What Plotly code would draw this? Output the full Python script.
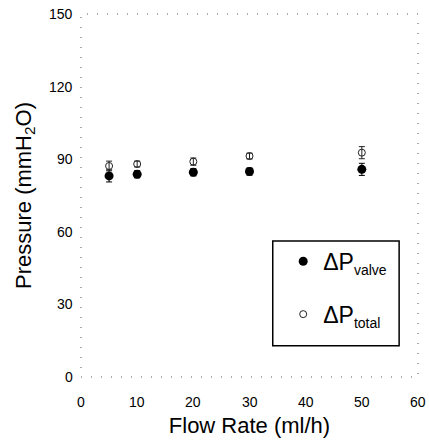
import plotly.graph_objects as go

flow_rate = [5, 10, 20, 30, 50]
dp_valve = [83.1, 83.8, 84.6, 84.9, 85.8]
dp_valve_err = [2.5, 1.5, 1.5, 1.5, 2.5]
dp_total = [87.2, 88.0, 89.0, 91.3, 92.7]
dp_total_err = [2.0, 1.2, 1.5, 1.2, 2.5]
x_ticks = [0, 10, 20, 30, 40, 50, 60]
y_ticks = [0, 30, 60, 90, 120, 150]

FONT = "Liberation Sans, Arial, sans-serif"

fig = go.Figure()
fig.add_trace(go.Scatter(
    x=flow_rate, y=dp_valve, mode="markers",
    name="ΔP<sub><span style='font-size:14px'>valve</span></sub>", legendgroup="a",
    marker=dict(symbol="circle", size=9, color="black"),
    error_y=dict(type="data", array=dp_valve_err, color="black", thickness=1, width=3),
))
fig.add_trace(go.Scatter(
    x=flow_rate, y=dp_total, mode="markers",
    name="ΔP<sub><span style='font-size:14px'>total</span></sub>", legendgroup="b",
    marker=dict(symbol="circle-open", size=7, color="#222", line=dict(width=1)),
    error_y=dict(type="data", array=dp_total_err, color="#222", thickness=1, width=3),
))

# tick labels drawn as annotations at the axis tick values
annotations = []
for v in y_ticks:
    annotations.append(dict(x=0, xref="paper", y=v, yref="y", text=str(v),
                            showarrow=False, xanchor="right", xshift=-6,
                            font=dict(size=14, family=FONT, color="black")))
for v in x_ticks:
    annotations.append(dict(x=v, xref="x", y=0, yref="paper", text=str(v),
                            showarrow=False, yanchor="top", yshift=-15,
                            font=dict(size=14, family=FONT, color="black")))

fig.update_layout(
    width=429, height=444,
    margin=dict(l=81, r=11, t=14, b=67),
    paper_bgcolor="white", plot_bgcolor="white",
    font=dict(family=FONT, color="black", size=14),
    showlegend=True,
    legend=dict(
        x=0.60, y=0.378, xanchor="left", yanchor="top",
        bgcolor="rgba(0,0,0,0)", borderwidth=0,
        font=dict(size=23, family=FONT),
        traceorder="grouped", tracegroupgap=20,
        itemwidth=30,
    ),
    xaxis=dict(
        range=[0, 60], tickvals=x_ticks, showticklabels=False,
        showgrid=False, zeroline=False, showline=False, ticks="",
        automargin=False,
        title=dict(text="Flow Rate (ml/h)", font=dict(size=22, family=FONT), standoff=40),
    ),
    yaxis=dict(
        range=[0, 150], tickvals=y_ticks, showticklabels=False,
        showgrid=False, zeroline=False, showline=False, ticks="",
        automargin=False,
        title=dict(text="Pressure (mmH<sub>2</sub>O)", font=dict(size=22, family=FONT), standoff=42),
    ),
    annotations=annotations,
    shapes=[
        dict(type="rect", xref="paper", yref="paper", x0=0, x1=1, y0=0, y1=1,
             line=dict(color="#555", width=1, dash="1px,9px")),
        dict(type="rect", xref="paper", yref="paper", x0=0.569, x1=0.944, y0=0.086, y1=0.375,
             line=dict(color="black", width=1.5)),
    ],
)

fig.write_html(
    "out.html",
    config={"displayModeBar": False},
    post_script="document.body.style.margin='0';document.body.style.overflow='hidden';",
)
